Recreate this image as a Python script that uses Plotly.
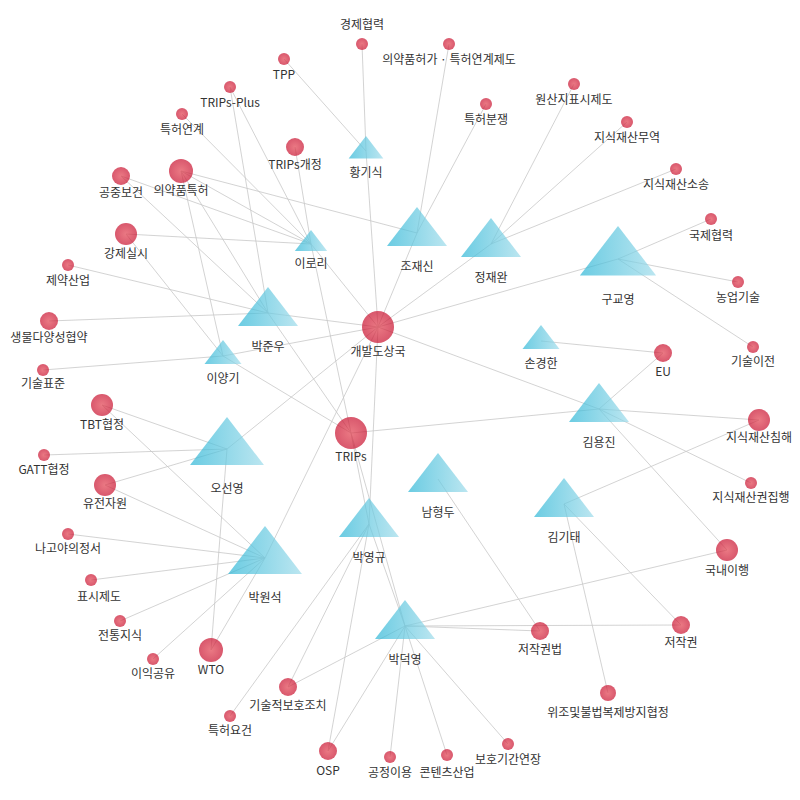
import plotly.graph_objects as go

people = ["황기식","이로리","조재신","정재완","구교영","박준우","이양기","손경한","김용진","오선영","남형두","김기태","박영규","박원석","박덕영"]
px_ = [365,310,416,490,617,267,222,540,598,226,437,563,368,264,404]
py_ = [150,243,232,243,258,312,355,340,408,448,478,503,523,557,625]
ps = [30,28,52,52,66,52,32,32,52,64,52,52,52,64,52]

topics = ["개발도상국","TRIPs","경제협력","의약품허가 · 특허연계제도","TPP","TRIPs-Plus","특허분쟁","원산지표시제도","지식재산무역","특허연계",
          "TRIPs개정","지식재산소송","공중보건","의약품특허","국제협력","강제실시","제약산업","농업기술","생물다양성협약","기술이전",
          "EU","기술표준","TBT협정","지식재산침해","GATT협정","지식재산권집행","유전자원","나고야의정서","국내이행","표시제도",
          "전통지식","저작권","저작권법","WTO","이익공유","위조및불법복제방지협정","기술적보호조치","특허요건","OSP","공정이용","콘텐츠산업","보호기간연장"]
tx = [377,350,361,448,283,229,485,573,626,181,294,675,120,180,710,125,67,737,48,752,662,42,101,758,43,750,104,67,726,90,119,680,539,210,152,607,287,229,327,389,446,507]
ty = [326,432,43,43,58,86,103,83,121,113,146,168,175,170,218,233,264,281,320,346,352,369,404,419,454,482,484,533,549,579,620,624,630,649,658,692,686,715,750,756,754,743]
ts = [32,32,12,12,12,12,12,12,12,12,18,12,18,24,12,22,12,12,18,12,18,12,22,22,12,12,22,12,22,12,12,18,18,24,12,16,18,12,18,12,12,12]
tlx = [377,350,361,448,283,229,485,573,626,181,294,675,120,180,710,125,67,737,48,752,662,42,101,758,43,750,104,67,726,98,119,680,539,210,152,607,287,229,327,389,446,507]
tly = [352,457,25,60,75,103,120,100,138,130,165,185,193,191,236,254,281,298,338,362,372,384,425,438,470,498,504,549,571,597,636,643,650,670,674,713,706,731,771,773,773,760]

edges = [
 ("황기식","경제협력"),("황기식","TPP"),("황기식","개발도상국"),
 ("이로리","TRIPs-Plus"),("이로리","특허연계"),("이로리","TRIPs개정"),("이로리","의약품특허"),("이로리","공중보건"),("이로리","강제실시"),("이로리","개발도상국"),("이로리","TRIPs"),
 ("조재신","의약품허가 · 특허연계제도"),("조재신","특허분쟁"),("조재신","개발도상국"),("조재신","의약품특허"),
 ("정재완","원산지표시제도"),("정재완","지식재산무역"),("정재완","지식재산소송"),("정재완","개발도상국"),
 ("구교영","국제협력"),("구교영","농업기술"),("구교영","기술이전"),("구교영","개발도상국"),
 ("박준우","공중보건"),("박준우","의약품특허"),("박준우","제약산업"),("박준우","생물다양성협약"),("박준우","개발도상국"),("박준우","TRIPs"),("박준우","TRIPs-Plus"),
 ("이양기","의약품특허"),("이양기","기술표준"),("이양기","개발도상국"),("이양기","강제실시"),("이양기","TRIPs"),
 ("손경한","EU"),
 ("김용진","EU"),("김용진","지식재산침해"),("김용진","지식재산권집행"),("김용진","국내이행"),("김용진","TRIPs"),("김용진","개발도상국"),
 ("오선영","개발도상국"),("오선영","TBT협정"),("오선영","GATT협정"),("오선영","유전자원"),("오선영","WTO"),
 ("김기태","지식재산침해"),("김기태","저작권"),("김기태","위조및불법복제방지협정"),
 ("남형두","저작권법"),
 ("박영규","TRIPs"),("박영규","개발도상국"),("박영규","기술적보호조치"),("박영규","특허요건"),("박영규","OSP"),
 ("박원석","TBT협정"),("박원석","유전자원"),("박원석","나고야의정서"),("박원석","표시제도"),("박원석","전통지식"),("박원석","이익공유"),("박원석","WTO"),("박원석","개발도상국"),
 ("박덕영","국내이행"),("박덕영","저작권"),("박덕영","저작권법"),("박덕영","기술적보호조치"),("박덕영","OSP"),("박덕영","공정이용"),("박덕영","콘텐츠산업"),("박덕영","보호기간연장"),("박덕영","박영규"),("박덕영","TRIPs"),
]

pos = {n:(x,y) for n,x,y in zip(people,px_,py_)}
pos.update({n:(x,y) for n,x,y in zip(topics,tx,ty)})
ex, ey = [], []
for a,b in edges:
    ex += [pos[a][0], pos[b][0], None]; ey += [pos[a][1], pos[b][1], None]

fig = go.Figure()
fig.add_trace(go.Scatter(x=ex, y=ey, mode="lines", line=dict(color="#c8c8c8", width=0.8), hoverinfo="skip"))
fig.add_trace(go.Scatter(x=tx, y=ty, mode="markers",
    marker=dict(size=ts, color="#c8102e", line=dict(width=0), gradient=dict(type="radial", color="#e2404f"))))
fig.add_trace(go.Scatter(x=px_, y=py_, mode="markers",
    marker=dict(symbol="triangle-up", size=ps, color="#2cb6d6", line=dict(width=0), gradient=dict(type="horizontal", color="#9edbea"))))
lab = people + topics
lx = px_ + tlx
ly = [y + s*0.55 + 6 for y,s in zip(py_,ps)] + tly
fig.add_trace(go.Scatter(x=lx, y=ly, mode="text", text=lab,
    textfont=dict(family="Noto Sans CJK KR", size=12, color="#333")))
fig.update_layout(width=800, height=800, margin=dict(l=0,r=0,t=0,b=0), showlegend=False,
    plot_bgcolor="white", paper_bgcolor="white",
    xaxis=dict(range=[7,807], visible=False), yaxis=dict(range=[807,7], visible=False))
fig.write_html("out.html")
